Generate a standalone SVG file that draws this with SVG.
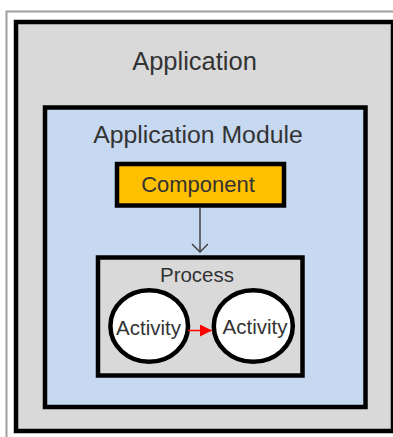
<svg xmlns="http://www.w3.org/2000/svg" width="393" height="437" viewBox="0 0 393 437">
<defs>
<style>
.box{stroke:#000;stroke-width:4.5}
.t{font-family:"Liberation Sans",Arial,sans-serif;text-anchor:middle;fill:#333333}
</style>
<marker id="open" markerWidth="20" markerHeight="20" refX="9" refY="8" orient="auto" markerUnits="userSpaceOnUse">
<path d="M1,0 L9,8 L1,16" fill="none" stroke="#404040" stroke-width="1.5"/>
</marker>
<marker id="red" markerWidth="14" markerHeight="12" refX="12" refY="6" orient="auto" markerUnits="userSpaceOnUse">
<path d="M0,0 L12,6 L0,12 Z" fill="#ff0000"/>
</marker>
</defs>
<rect x="0" y="0" width="393" height="437" fill="#ffffff"/>
<path d="M6.5,440 V11.5 H395" fill="none" stroke="#a0a0a0" stroke-width="2"/>
<g id="application">
<rect class="box" x="16" y="22" width="377" height="409" fill="#d9d9d9"/>
<text class="t" x="194.5" y="70" font-size="25.5">Application</text>
</g>
<g id="application-module">
<rect class="box" x="45" y="107.5" width="320.5" height="299.5" fill="#c6d9f1"/>
<text class="t" x="198" y="143" font-size="24.8">Application Module</text>
</g>
<g id="component">
<rect class="box" x="117" y="164" width="167" height="41.5" fill="#ffc000"/>
<text class="t" x="198" y="192" font-size="22" fill="#262626">Component</text>
</g>
<g id="process">
<rect class="box" x="98" y="257.5" width="204.5" height="118" fill="#d9d9d9"/>
<text class="t" x="197" y="282" font-size="20.5">Process</text>
</g>
<g id="activity1">
<ellipse class="box" cx="149.2" cy="326" rx="38.8" ry="35.8" fill="#ffffff"/>
<text class="t" x="148.5" y="335" font-size="20.5">Activity</text>
</g>
<g id="activity2">
<ellipse class="box" cx="253.3" cy="326" rx="39.5" ry="35.8" fill="#ffffff"/>
<text class="t" x="255" y="334" font-size="20.5">Activity</text>
</g>
<g id="connectors">
<line x1="200" y1="207" x2="200" y2="252" stroke="#404040" stroke-width="1.5" marker-end="url(#open)"/>
<line x1="188" y1="330.5" x2="212" y2="330.5" stroke="#ff0000" stroke-width="1.5" marker-end="url(#red)"/>
</g>
</svg>
